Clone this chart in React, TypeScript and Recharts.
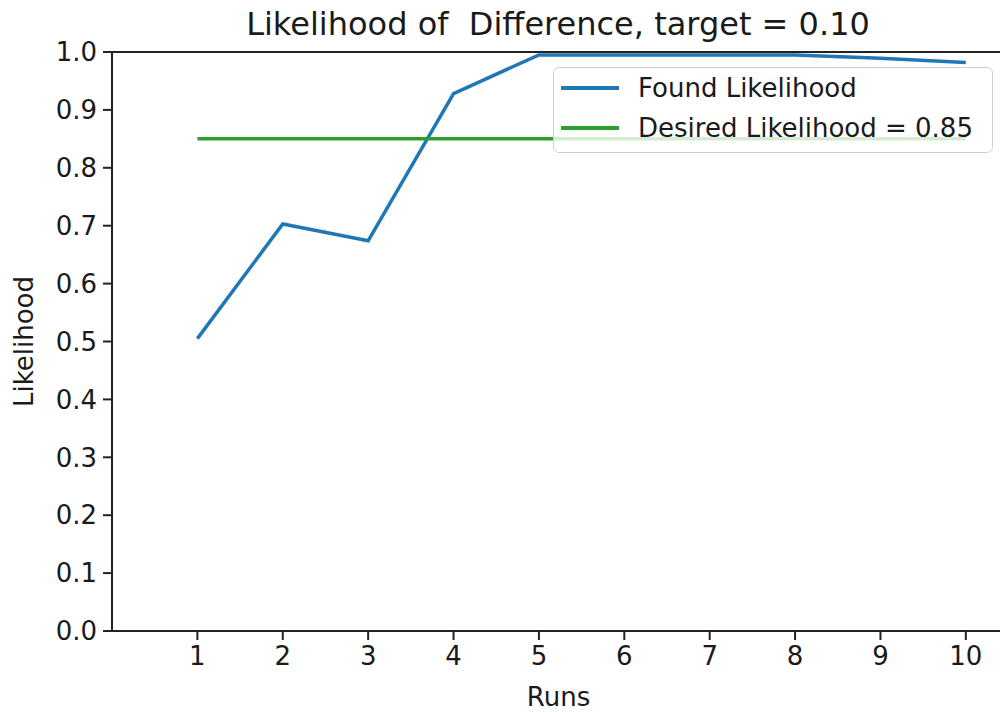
import React from "react";
import {
  LineChart,
  Line,
  XAxis,
  YAxis,
  Legend,
  ReferenceLine,
} from "recharts";

const runs = [1, 2, 3, 4, 5, 6, 7, 8, 9, 10];
const foundLikelihood = [0.505, 0.703, 0.674, 0.928, 0.995, 0.995, 0.995, 0.995, 0.989, 0.982];
const desiredLikelihood = [0.85, 0.85, 0.85, 0.85, 0.85, 0.85, 0.85, 0.85, 0.85, 0.85];
const xTicks = [1, 2, 3, 4, 5, 6, 7, 8, 9, 10];
const yTicks = [0, 0.1, 0.2, 0.3, 0.4, 0.5, 0.6, 0.7, 0.8, 0.9, 1.0];
const titleText = "Likelihood of  Difference, target = 0.10";
const xLabel = "Runs";
const yLabel = "Likelihood";
const foundName = "Found Likelihood";
const desiredName = "Desired Likelihood = 0.85";

const data = runs.map((r, i) => ({
  run: r,
  found: foundLikelihood[i],
  desired: desiredLikelihood[i],
}));

const FONT = "'DejaVu Sans', sans-serif";
const BLUE = "#1f77b4";
const GREEN = "#2ca02c";
const TEXT = "#1a1a1a";
const SPINE = "#222";

const LegendBox = () => (
  <div
    style={{
      width: 440,
      height: 86,
      boxSizing: "border-box",
      background: "rgba(255,255,255,0.8)",
      border: "1.5px solid #d0d0d0",
      borderRadius: 6,
      fontFamily: FONT,
      fontSize: 26,
      color: TEXT,
      position: "relative",
    }}
  >
    {[
      { name: foundName, color: BLUE, y: 19.5 },
      { name: desiredName, color: GREEN, y: 59.5 },
    ].map((e) => (
      <div key={e.name}>
        <div
          style={{
            position: "absolute",
            left: 7,
            top: e.y - 2,
            width: 58,
            height: 4,
            background: e.color,
          }}
        />
        <div
          style={{
            position: "absolute",
            left: 84,
            top: e.y - 14.5,
            lineHeight: "30px",
            whiteSpace: "nowrap",
          }}
        >
          {e.name}
        </div>
      </div>
    ))}
  </div>
);

export default function App() {
  return (
    <div style={{ position: "absolute", left: 0, top: 0, width: 1000, height: 712, background: "#fff" }}>
      <div
        style={{
          position: "absolute",
          left: 108,
          top: 35 - 30,
          width: 900,
          textAlign: "center",
          fontFamily: FONT,
          fontSize: 32,
          lineHeight: "38px",
          color: TEXT,
          whiteSpace: "pre",
          zIndex: 2,
        }}
      >
        {titleText}
      </div>
      <LineChart
        width={1000}
        height={712}
        data={data}
        margin={{ top: 52, right: 0, bottom: 0, left: 0 }}
      >
        <XAxis
          type="number"
          dataKey="run"
          domain={[0, 10.4]}
          allowDataOverflow
          ticks={xTicks}
          interval={0}
          height={81}
          tickSize={9}
          tickMargin={7}
          tick={{ fontSize: 26, fill: TEXT, fontFamily: FONT }}
          tickLine={{ stroke: SPINE, strokeWidth: 2 }}
          axisLine={{ stroke: SPINE, strokeWidth: 2 }}
          label={{
            content: (props: any) => {
              const vb = props.viewBox || { x: 112, width: 888, y: 631 };
              const cx = vb.x + (1005 - vb.x) / 2;
              return (
                <text
                  x={cx}
                  y={706}
                  textAnchor="middle"
                  fontFamily={FONT}
                  fontSize={26}
                  fill={TEXT}
                >
                  {xLabel}
                </text>
              );
            },
          }}
        />
        <YAxis
          type="number"
          domain={[0, 1]}
          ticks={yTicks}
          interval={0}
          width={112}
          tickSize={9}
          tickMargin={6}
          tickFormatter={(v: number) => v.toFixed(1)}
          tick={{ fontSize: 26, fill: TEXT, fontFamily: FONT }}
          tickLine={{ stroke: SPINE, strokeWidth: 2 }}
          axisLine={{ stroke: SPINE, strokeWidth: 2 }}
          label={{
            content: (props: any) => {
              const vb = props.viewBox || { y: 52, height: 579 };
              const cy = vb.y + vb.height / 2;
              const x = 33;
              return (
                <text
                  x={x}
                  y={cy}
                  transform={`rotate(-90 ${x} ${cy})`}
                  textAnchor="middle"
                  fontFamily={FONT}
                  fontSize={26}
                  fill={TEXT}
                >
                  {yLabel}
                </text>
              );
            },
          }}
        />
        <ReferenceLine y={1} stroke={SPINE} strokeWidth={2} ifOverflow="visible" />
        <Legend
          layout="horizontal"
          verticalAlign="middle"
          align="center"
          wrapperStyle={{ position: "absolute", top: 67, left: 553, width: 440, height: 86 }}
          content={() => <LegendBox />}
        />
        <Line
          type="linear"
          dataKey="found"
          name={foundName}
          stroke={BLUE}
          strokeWidth={3.5}
          dot={false}
          activeDot={false}
          isAnimationActive={false}
        />
        <Line
          type="linear"
          dataKey="desired"
          name={desiredName}
          stroke={GREEN}
          strokeWidth={3.5}
          dot={false}
          activeDot={false}
          isAnimationActive={false}
        />
      </LineChart>
    </div>
  );
}
